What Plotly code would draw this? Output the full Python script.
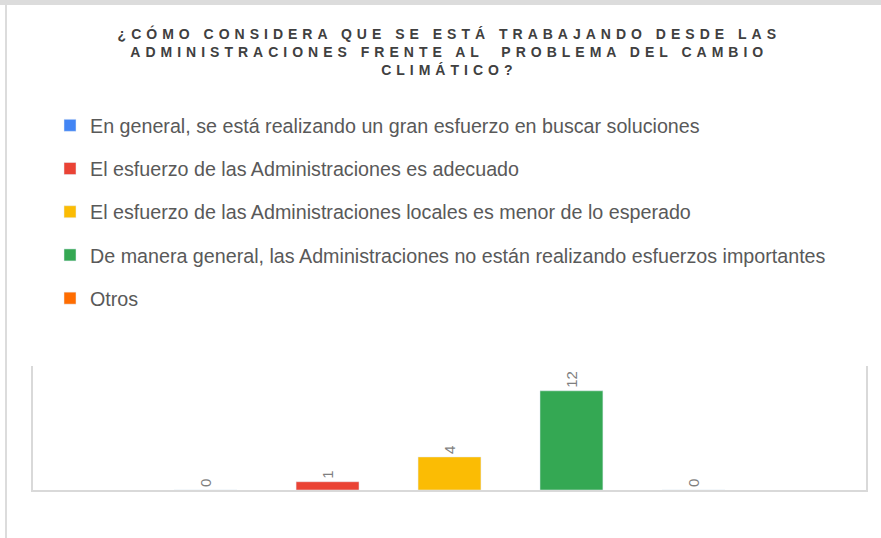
import plotly.graph_objects as go

# ---- data ----
categories = [
    "En general, se está realizando un gran esfuerzo en buscar soluciones",
    "El esfuerzo de las Administraciones es adecuado",
    "El esfuerzo de las Administraciones locales es menor de lo esperado",
    "De manera general, las Administraciones no están realizando esfuerzos importantes",
    "Otros",
]
values = [0, 1, 4, 12, 0]
colors = ["#4285F4", "#EA4335", "#FBBC04", "#34A853", "#FF6D01"]
title_lines = [
    "¿CÓMO CONSIDERA QUE SE ESTÁ TRABAJANDO DESDE LAS",
    "ADMINISTRACIONES FRENTE AL  PROBLEMA DEL CAMBIO",
    "CLIMÁTICO?",
]

W, H = 881, 538
L, R, T, B = 33, 15, 366, 48
PW = W - L - R
PH = H - T - B

def px_x(px):
    return (px - L) / PW

def px_y(py):
    return (H - B - py) / PH

fig = go.Figure()
for i, (cat, v, c) in enumerate(zip(categories, values, colors)):
    fig.add_trace(go.Bar(
        x=[""], y=[v], name=cat, marker_color=c,
        text=[str(v)], textposition="outside", textangle=-90,
        textfont=dict(size=15, color="#7f7f7f", family="Liberation Sans"),
        legendgroup=f"g{i}", cliponaxis=False, hoverinfo="skip",
    ))

title_text = "<br>".join(
    f'<span style="letter-spacing:5px">{t}</span>' for t in title_lines
)

grey = "#d9d9d9"
fig.update_layout(
    width=W, height=H,
    margin=dict(l=L, r=R, t=T, b=B, autoexpand=False),
    paper_bgcolor="white", plot_bgcolor="white",
    barmode="group", bargap=0.268, bargroupgap=0.484,
    font=dict(family="Liberation Sans", color="#595959"),
    title=dict(text=title_text, x=0.51, xanchor="center", y=1 - 39 / H, yanchor="top",
               font=dict(size=14, color="#404040", family="Liberation Sans", weight="bold")),
    showlegend=True,
    legend=dict(xref="container", yref="container",
                x=50 / W, y=1 - 106 / H, xanchor="left", yanchor="top",
                font=dict(size=19.7, color="#595959", family="Liberation Sans"),
                tracegroupgap=14.6, traceorder="grouped", bgcolor="rgba(0,0,0,0)"),
    xaxis=dict(showticklabels=False, showline=True, linecolor=grey, linewidth=2,
               ticks="", showgrid=False, zeroline=False, fixedrange=True),
    yaxis=dict(range=[0, 15], showticklabels=False, showline=True, mirror=True,
               linecolor=grey, linewidth=2, ticks="", showgrid=False,
               zeroline=False, fixedrange=True),
    shapes=[
        dict(type="rect", xref="paper", yref="paper",
             x0=px_x(0), x1=px_x(W), y0=px_y(5), y1=px_y(0),
             fillcolor="#dcdcdc", line=dict(width=0), layer="below"),
        dict(type="line", xref="paper", yref="paper",
             x0=px_x(6), x1=px_x(6), y0=px_y(5), y1=px_y(H),
             line=dict(color="#dcdcdc", width=2)),
    ],
)

fig.write_html(
    "out.html",
    config={"displayModeBar": False},
    post_script="document.body.style.margin='0';document.body.style.overflow='hidden';",
)
